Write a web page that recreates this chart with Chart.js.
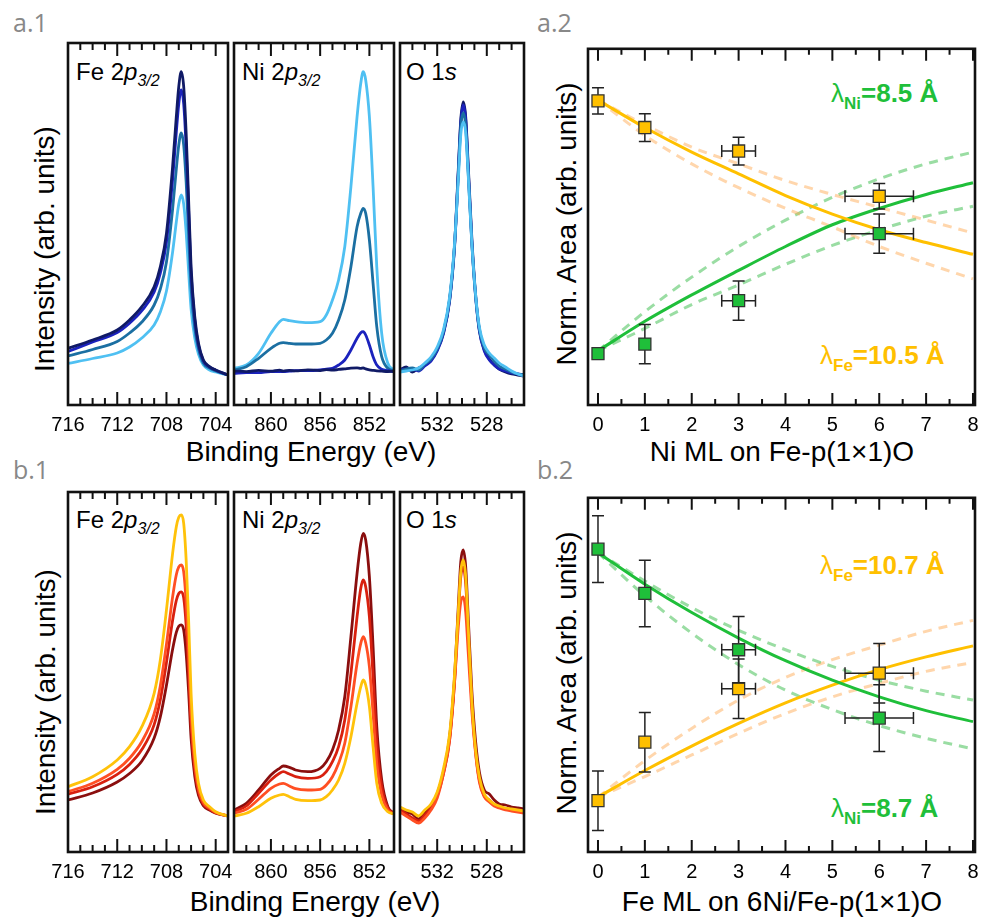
<!DOCTYPE html>
<html>
<head>
<meta charset="utf-8">
<script src="https://cdn.jsdelivr.net/npm/chart.js@4.4.1/dist/chart.umd.min.js"></script>
<style>
  body { margin: 0; background: #fff; }
  #fig { position: relative; width: 982px; height: 917px; overflow: hidden; font-family: "Liberation Sans", Arial, sans-serif; color: #000; background: #fff; }
  canvas { position: absolute; }
  .lbl { position: absolute; white-space: nowrap; line-height: 24px; }
  .panel { font-family: "Open Sans", Lato, sans-serif; font-size: 25px; line-height: 25px; color: #888; }
  .ytitle { font-size: 28px; line-height: 28px; transform: translate(-50%, -50%) rotate(-90deg); }
  .xtitle { font-size: 28px; line-height: 28px; transform: translate(-50%, -50%); }
  .core { font-size: 24px; }
  .core sub { font-size: 16px; font-style: italic; vertical-align: -6px; line-height: 0; }
  .lam { font-size: 26px; line-height: 26px; font-weight: bold; }
  .lam .lg { font-weight: normal; }
  .lam sub { font-size: 17px; vertical-align: -7px; line-height: 0; }
</style>
</head>
<body>
<div id="fig">
  <div class="lbl panel" style="left:13px;top:10px">a.1</div>
  <div class="lbl panel" style="left:537px;top:10px">a.2</div>
  <div class="lbl panel" style="left:13px;top:457px">b.1</div>
  <div class="lbl panel" style="left:537px;top:457px">b.2</div>

  <div class="lbl ytitle" style="left:45px;top:249px">Intensity (arb. units)</div>
  <div class="lbl ytitle" style="left:46px;top:692px">Intensity (arb. units)</div>
  <div class="lbl ytitle" style="left:567px;top:224px">Norm. Area (arb. units)</div>
  <div class="lbl ytitle" style="left:567px;top:673px">Norm. Area (arb. units)</div>

  <div class="lbl xtitle" style="left:311px;top:452px">Binding Energy (eV)</div>
  <div class="lbl xtitle" style="left:315px;top:902px">Binding Energy (eV)</div>
  <div class="lbl xtitle" style="left:782px;top:452px">Ni ML on Fe-p(1×1)O</div>
  <div class="lbl xtitle" style="left:782px;top:902px">Fe ML on 6Ni/Fe-p(1×1)O</div>

  <div class="lbl core" style="left:76px;top:60px">Fe 2<i>p</i><sub>3/2</sub></div>
  <div class="lbl core" style="left:242px;top:60px">Ni 2<i>p</i><sub>3/2</sub></div>
  <div class="lbl core" style="left:406px;top:60px">O 1<i>s</i></div>
  <div class="lbl core" style="left:76px;top:508px">Fe 2<i>p</i><sub>3/2</sub></div>
  <div class="lbl core" style="left:242px;top:508px">Ni 2<i>p</i><sub>3/2</sub></div>
  <div class="lbl core" style="left:406px;top:508px">O 1<i>s</i></div>

  <div class="lbl lam" style="left:831px;top:80px;color:#1fbf3a"><span class="lg">λ</span><sub>Ni</sub>=8.5 Å</div>
  <div class="lbl lam" style="left:820px;top:342px;color:#ffc000"><span class="lg">λ</span><sub>Fe</sub>=10.5 Å</div>
  <div class="lbl lam" style="left:820px;top:552px;color:#ffc000"><span class="lg">λ</span><sub>Fe</sub>=10.7 Å</div>
  <div class="lbl lam" style="left:831px;top:795px;color:#1fbf3a"><span class="lg">λ</span><sub>Ni</sub>=8.7 Å</div>
</div>
<script>
// binding energy grids (eV)
const feE = [716,714,712,711,710,709,708.5,708,707.5,707.2,707,706.8,706.6,706.4,706.2,706,705.7,705.4,705,704.5,704,703];
const niE = [863,862,861,860,859.3,859,858.5,858,857,856,855.5,855,854.5,854,853.5,853,852.7,852.5,852.3,852,851.7,851.4,851,850.5,850];
const oE  = [535,534.5,534,533.5,533,532.5,532,531.5,531,530.6,530.3,530.1,529.9,529.7,529.5,529.2,528.9,528.6,528.2,527.8,527.4,527,526.5,526,525.5,525];

// row a spectra (intensity, arb.)
const feA_navy  = [56.7,65,75,85,98.3,118.3,138.3,171.7,238.3,288.3,318.3,333.3,318.3,271.7,205,138.3,88.3,61.7,45,38.3,35,30];
const feA_blue  = [53.5,63,72.4,81.8,94.3,113,131.9,163.3,225.9,272.9,301,315.2,301,257.3,194.6,131.9,84.9,59.9,44.2,37.9,34.8,30];
const feA_teal  = [49,55.5,63.5,72,83,100,116,143,196,236,260,272,260,223,170,117,77,56,42,37,34,30];
const feA_light = [41.5,46.5,52,58,67,80,93,114,153,183,201,210,201,173,134,96,67,51,40,35,33,30];

const niA_navy  = [34.2,33.4,34.6,33.8,34.9,33.9,34.7,34.1,35.2,34.4,35.3,34.8,35.6,36.2,36.8,37.1,36.6,37,36.1,35.2,34.6,34.1,33.8,33.5,33.6];
const niA_blue  = [31.7,32.3,32.3,33.3,33.3,33.3,33.8,34.3,34.3,35,35.8,36.7,40,45,55,66.7,72.3,73.3,70,60,48.3,40,35.7,34.3,33.3];
const niA_teal  = [35,38.3,46.7,56.7,61.7,62.3,61.7,61,61,61.7,65,71.7,85,105,138.3,178.3,191.7,196.7,191.7,165,121.7,78.3,48.3,36.7,34.3];
const niA_light = [36.7,40,51.7,71.7,83.3,85.7,84.3,83.3,82.3,83.3,90,105,125,158.3,218.3,288.3,321.7,333.3,325,288.3,218.3,138.3,71.7,41.7,35];

const oA_navy  = [35,38,33,37,40,45,55,72,105,160,235,285,303,288,240,165,110,75,55,46,40,36,33,31,30,29];
const oA_blue  = [36,35,36,34,39,44,54,71,104,158,232,282,300,285,236,162,108,74,54,45,40,36,34,32,31,30];
const oA_teal  = [34,36,37,35,41,46,56,73,106,160,230,278,292,278,232,160,108,76,57,50,44,39,36,33,31,30];
const oA_light = [33,34,35,37,42,48,58,75,108,162,225,270,283,272,230,160,110,78,60,52,47,42,38,34,31,29];

// row b spectra
const feB_yellow = [65.3,75.3,92,105.3,125.3,158.7,192,242,298.7,325.3,334.7,337,328.7,292,232,158.7,98.7,68.7,52,45.3,40.3,36];
const feB_orange = [60.4,68.8,82.7,93.8,110.5,138.3,166.1,207.8,255.1,277.3,285.1,287,280.1,249.5,199.5,138.3,88.3,63.3,49.3,43.8,39.6,36];
const feB_red    = [57.8,65.3,77.7,87.6,102.5,127.4,152.2,189.5,231.7,251.5,258.5,260.2,254.1,226.7,182,127.4,82.7,60.4,47.9,42.9,39.2,36];
const feB_maroon = [52,59,70,78.5,91,113.9,135.1,166.8,202.8,219.7,225.7,227.1,221.9,198.6,160.5,113.9,75.8,56.8,46.2,41.9,38.7,36];

const niB_maroon = [42,48.7,62,77,83.7,86,84.7,82,80.3,83.7,90.3,102,122,155.3,215.3,278.7,308.7,318.7,312,275.3,205.3,125.3,72,45.3,38.7];
const niB_red    = [40.3,46,58.7,72,78.7,80.3,78,75.3,73.7,75.3,80.3,90.3,105.3,132,178.7,235.3,263.7,272,265.3,235.3,175.3,108.7,65.3,43.7,38.7];
const niB_orange = [38.7,42.7,52.7,63.7,68,68.7,66,63.3,62,62.7,67,75.3,88.7,108.7,145.3,188.7,208.7,215.3,209.3,185.3,138.7,88.7,57,42,38];
const niB_yellow = [36,38.7,45.3,53.7,57,57.7,55.3,52.7,51.3,52,55.3,62,72,88.7,115.3,148.7,165.3,172,167,145.3,105.3,68.7,48.7,40.3,38];

const oB_maroon = [44,40,38,33,40,46,58,80,115,175,245,290,302,285,235,160,110,80,62,58,52,48,47,45,44,43];
const oB_yellow = [45,42,40,36,42,48,60,83,118,178,240,280,292,275,225,150,102,75,58,52,48,46,44,43,42,41];
const oB_red    = [42,38,34,31,37,44,56,78,112,170,238,275,285,268,220,148,100,72,56,52,47,45,43,42,41,40];
const oB_orange = [40,36,32,29,34,42,54,78,112,170,225,250,255,240,200,140,98,70,55,50,46,44,42,41,40,39];

// normalized areas vs coverage (ML)
const mlX = [0,1,3,6];
const mlXErr = [0,0,0.36,0.73];
const a2FeY = [85.4,77.9,71.3,58.6];
const a2FeYErr = [3.7,3.9,3.9,3.6];
const a2NiY = [14.4,17.1,29.3,48.1];
const a2NiYErr = [0,5.5,5.5,5.5];
const b2NiY = [85.5,73.0,57.1,37.8];
const b2NiYErr = [9.4,9.4,9.4,9.4];
const b2FeY = [14.5,31.0,46.1,50.5];
const b2FeYErr = [8.4,8.4,8.4,8.4];

// fit curves
const fitX = [0,1,2,3,4,5,6,7,8];
const a2FeFit   = [85.6,77.9,71.0,64.9,58.8,53.6,49.2,45.6,42.3];
const a2FeFitHi = [85.6,78.7,72.4,67.7,63.0,59.1,55.5,51.9,48.3];
const a2FeFitLo = [85.6,75.7,67.7,61.0,55.2,50.0,44.5,39.8,35.4];
const a2NiFit   = [15.2,23.5,30.9,37.8,44.5,50.6,55.2,59.1,62.4];
const a2NiFitHi = [15.2,26.2,35.9,44.5,51.9,58.3,63.5,67.7,71.0];
const a2NiFitLo = [15.2,21.5,28.2,33.7,39.5,44.8,49.2,53.0,55.8];
const b2NiFit   = [84.5,75.6,67.6,60.4,54.0,48.5,43.8,39.9,36.8];
const b2NiFitHi = [84.5,76.5,69.0,62.6,57.1,52.4,48.5,45.4,42.9];
const b2NiFitLo = [84.5,72.3,61.8,52.9,45.7,40.2,35.7,32.1,29.1];
const b2FeFit   = [15.5,23.0,29.9,36.3,42.1,47.1,51.5,55.1,58.2];
const b2FeFitHi = [15.5,25.8,34.9,42.9,49.3,54.3,58.4,62.3,65.4];
const b2FeFitLo = [15.5,21.3,27.4,33.5,39.1,43.8,47.6,51.0,53.5];

const C = {
  navy: '#101a66', blue: '#1b22bd', teal: '#1b6fa2', light: '#4fc0f2',
  maroon: '#8a0e0e', red: '#d8200f', orange: '#ff4f23', yellow: '#ffc20a',
  fe: '#ffc000', ni: '#1fbf3a',
  feDash: 'rgba(255,165,70,0.45)', niDash: 'rgba(30,180,50,0.45)'
};

const SIDE = 30, TOP = 4, LAB = 45;
const FONT = '"Liberation Sans", Arial, sans-serif';

// frame + inward ticks on top and bottom
const framePlugin = {
  id: 'frame',
  afterDraw(chart, args, o) {
    const { ctx, chartArea: a } = chart;
    const x = chart.scales.x;
    ctx.save();
    ctx.strokeStyle = '#111';
    ctx.lineWidth = 2;
    for (let v = o.from; v <= o.to + 1e-9; v += o.step) {
      const px = x.getPixelForValue(v);
      const len = o.majors.includes(v) ? o.big : o.small;
      ctx.beginPath();
      ctx.moveTo(px, a.bottom); ctx.lineTo(px, a.bottom - len);
      ctx.moveTo(px, a.top); ctx.lineTo(px, a.top + len);
      ctx.stroke();
    }
    ctx.lineWidth = 2.6;
    ctx.strokeRect(a.left, a.top, a.right - a.left, a.bottom - a.top);
    ctx.restore();
  }
};

// error bars drawn just before their marker dataset
const errPlugin = {
  id: 'errbars',
  beforeDatasetDraw(chart, args) {
    const ds = chart.data.datasets[args.index];
    if (!ds.yErr) return;
    const xs = chart.scales.x, ys = chart.scales.y, ctx = chart.ctx;
    const cap = 6;
    ctx.save();
    ctx.strokeStyle = '#222';
    ctx.lineWidth = 1.5;
    ds.data.forEach((p, i) => {
      const px = xs.getPixelForValue(p.x), py = ys.getPixelForValue(p.y);
      ctx.beginPath();
      if (ds.yErr[i] > 0) {
        const y0 = ys.getPixelForValue(p.y - ds.yErr[i]), y1 = ys.getPixelForValue(p.y + ds.yErr[i]);
        ctx.moveTo(px, y0); ctx.lineTo(px, y1);
        ctx.moveTo(px - cap, y0); ctx.lineTo(px + cap, y0);
        ctx.moveTo(px - cap, y1); ctx.lineTo(px + cap, y1);
      }
      if (ds.xErr[i] > 0) {
        const x0 = xs.getPixelForValue(p.x - ds.xErr[i]), x1 = xs.getPixelForValue(p.x + ds.xErr[i]);
        ctx.moveTo(x0, py); ctx.lineTo(x1, py);
        ctx.moveTo(x0, py - cap); ctx.lineTo(x0, py + cap);
        ctx.moveTo(x1, py - cap); ctx.lineTo(x1, py + cap);
      }
      ctx.stroke();
    });
    ctx.restore();
  }
};

function curve(xs, ys, color, w, dash) {
  return {
    data: xs.map((x, i) => ({ x: x, y: ys[i] })),
    showLine: true, borderColor: color, borderWidth: w, borderDash: dash || [],
    pointRadius: 0, cubicInterpolationMode: 'monotone', fill: false
  };
}

function marks(xs, ys, yErr, xErr, color) {
  return {
    data: xs.map((x, i) => ({ x: x, y: ys[i] })),
    showLine: false, pointStyle: 'rect', pointRadius: 8.5,
    backgroundColor: color, borderColor: '#333', borderWidth: 1.3,
    yErr: yErr, xErr: xErr
  };
}

function panel(box, cfg) {
  const cv = document.createElement('canvas');
  cv.width = box.w + 2 * SIDE;
  cv.height = box.h + TOP + LAB;
  cv.style.left = (box.l - SIDE) + 'px';
  cv.style.top = (box.t - TOP) + 'px';
  document.getElementById('fig').appendChild(cv);
  new Chart(cv, {
    type: 'scatter',
    data: { datasets: cfg.datasets },
    options: {
      responsive: false, animation: false, devicePixelRatio: 1,
      layout: { padding: { left: SIDE, right: SIDE, top: TOP, bottom: 0 } },
      plugins: {
        legend: { display: false }, tooltip: { enabled: false },
        frame: { from: cfg.tickFrom, to: cfg.tickTo, step: cfg.step, majors: cfg.majors, big: cfg.big, small: cfg.small }
      },
      scales: {
        x: {
          type: 'linear', min: cfg.xMin, max: cfg.xMax, reverse: !!cfg.reverse,
          grid: { display: false, drawTicks: false }, border: { display: false },
          afterFit: s => { s.height = LAB; },
          afterBuildTicks: s => { s.ticks = cfg.majors.map(v => ({ value: v })); },
          ticks: { padding: 8, color: '#000', font: { family: FONT, size: 20 }, maxRotation: 0, autoSkip: false, callback: v => String(v) }
        },
        y: { display: false, min: 0, max: cfg.yMax }
      }
    },
    plugins: [errPlugin, framePlugin]
  });
}

const W = 2.8;
// row a spectra
panel({ l: 68, t: 43, w: 160, h: 362 }, {
  xMin: 703, xMax: 716, reverse: true, yMax: 362, majors: [716, 712, 708, 704],
  tickFrom: 704, tickTo: 715, step: 1, big: 13, small: 7,
  datasets: [curve(feE, feA_navy, C.navy, W), curve(feE, feA_blue, C.blue, W), curve(feE, feA_teal, C.teal, W), curve(feE, feA_light, C.light, W)]
});
panel({ l: 234, t: 43, w: 160, h: 362 }, {
  xMin: 850, xMax: 863, reverse: true, yMax: 362, majors: [860, 856, 852],
  tickFrom: 851, tickTo: 862, step: 1, big: 13, small: 7,
  datasets: [curve(niE, niA_navy, C.navy, W), curve(niE, niA_blue, C.blue, W), curve(niE, niA_teal, C.teal, W), curve(niE, niA_light, C.light, W)]
});
panel({ l: 400, t: 43, w: 124, h: 362 }, {
  xMin: 525, xMax: 535, reverse: true, yMax: 362, majors: [532, 528],
  tickFrom: 526, tickTo: 534, step: 1, big: 13, small: 7,
  datasets: [curve(oE, oA_light, C.light, W), curve(oE, oA_teal, C.teal, W), curve(oE, oA_blue, C.blue, W), curve(oE, oA_navy, C.navy, W)]
});
// row b spectra
panel({ l: 68, t: 492, w: 160, h: 360 }, {
  xMin: 703, xMax: 716, reverse: true, yMax: 360, majors: [716, 712, 708, 704],
  tickFrom: 704, tickTo: 715, step: 1, big: 13, small: 7,
  datasets: [curve(feE, feB_yellow, C.yellow, W), curve(feE, feB_orange, C.orange, W), curve(feE, feB_red, C.red, W), curve(feE, feB_maroon, C.maroon, W)]
});
panel({ l: 234, t: 492, w: 160, h: 360 }, {
  xMin: 850, xMax: 863, reverse: true, yMax: 360, majors: [860, 856, 852],
  tickFrom: 851, tickTo: 862, step: 1, big: 13, small: 7,
  datasets: [curve(niE, niB_yellow, C.yellow, W), curve(niE, niB_orange, C.orange, W), curve(niE, niB_red, C.red, W), curve(niE, niB_maroon, C.maroon, W)]
});
panel({ l: 400, t: 492, w: 124, h: 360 }, {
  xMin: 525, xMax: 535, reverse: true, yMax: 360, majors: [532, 528],
  tickFrom: 526, tickTo: 534, step: 1, big: 13, small: 7,
  datasets: [curve(oE, oB_yellow, C.yellow, W), curve(oE, oB_orange, C.orange, W), curve(oE, oB_red, C.red, W), curve(oE, oB_maroon, C.maroon, W)]
});

// right panels
const dash = [9, 7];
panel({ l: 588, t: 43, w: 387, h: 362 }, {
  xMin: -0.213, xMax: 8.043, yMax: 100, majors: [0, 1, 2, 3, 4, 5, 6, 7, 8],
  tickFrom: 0, tickTo: 8, step: 0.5, big: 12, small: 6,
  datasets: [
    marks(mlX, a2FeY, a2FeYErr, mlXErr, C.fe),
    marks(mlX, a2NiY, a2NiYErr, mlXErr, C.ni),
    curve(fitX, a2FeFit, C.fe, 3),
    curve(fitX, a2NiFit, C.ni, 3),
    curve(fitX, a2FeFitHi, C.feDash, 3, dash),
    curve(fitX, a2FeFitLo, C.feDash, 3, dash),
    curve(fitX, a2NiFitHi, C.niDash, 3, dash),
    curve(fitX, a2NiFitLo, C.niDash, 3, dash)
  ]
});
panel({ l: 588, t: 492, w: 387, h: 360 }, {
  xMin: -0.213, xMax: 8.043, yMax: 100, majors: [0, 1, 2, 3, 4, 5, 6, 7, 8],
  tickFrom: 0, tickTo: 8, step: 0.5, big: 12, small: 6,
  datasets: [
    marks(mlX, b2NiY, b2NiYErr, mlXErr, C.ni),
    marks(mlX, b2FeY, b2FeYErr, mlXErr, C.fe),
    curve(fitX, b2NiFit, C.ni, 3),
    curve(fitX, b2FeFit, C.fe, 3),
    curve(fitX, b2NiFitHi, C.niDash, 3, dash),
    curve(fitX, b2NiFitLo, C.niDash, 3, dash),
    curve(fitX, b2FeFitHi, C.feDash, 3, dash),
    curve(fitX, b2FeFitLo, C.feDash, 3, dash)
  ]
});
</script>
</body>
</html>
